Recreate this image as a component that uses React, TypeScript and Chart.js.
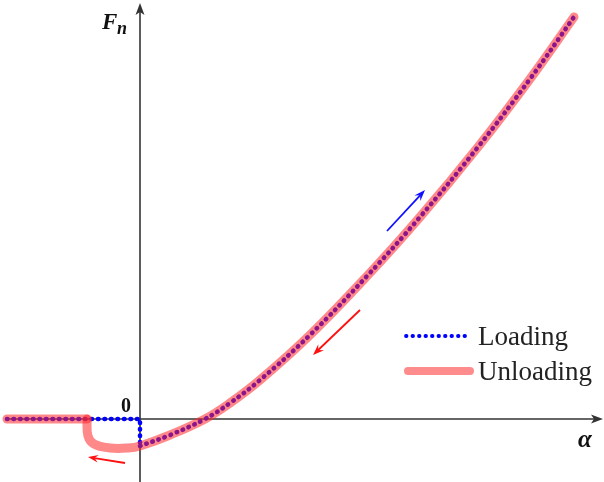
import React, { useEffect, useRef } from "react";
import { Chart, registerables } from "chart.js";

Chart.register(...registerables);

// Loading curve: flat part + drop (alpha, Fn)
const alphaLoadingFlat = [-1.33, 0, 0];
const fnLoadingFlat = [0, 0, -0.27];
// Loading curve: rising part
const alphaLoadingCurve = [0, 0.3, 0.65, 0.9, 1.2, 1.7, 2.28, 2.8, 3.38, 3.9, 4.34];
const fnLoadingCurve = [-0.27, -0.16, 0, 0.16, 0.39, 0.84, 1.44, 2.02, 2.72, 3.4, 4.02];

// Unloading curve: flat part
const alphaUnloadingFlat = [-1.33, -0.53];
const fnUnloadingFlat = [0, 0];
// Unloading curve: drop + rising part
const alphaUnloadingCurve = [-0.53, -0.52, -0.46, -0.3, -0.12, 0, 0.3, 0.65, 0.9, 1.2, 1.7, 2.28, 2.8, 3.38, 3.9, 4.34];
const fnUnloadingCurve = [0, -0.17, -0.25, -0.29, -0.29, -0.27, -0.16, 0, 0.16, 0.39, 0.84, 1.44, 2.02, 2.72, 3.4, 4.02];

const seriesNames = ["Loading", "Unloading"];

// direction arrows [x1, y1, x2, y2] in data units
const arrowLoad = [2.47, 1.88, 2.85, 2.29];
const arrowUnload1 = [2.2, 1.09, 1.73, 0.64];
const arrowUnload2 = [-0.15, -0.44, -0.52, -0.38];

const X_MIN = -1.4;
const X_MAX = 4.64;
const Y_MIN = -0.63;
const Y_MAX = 4.19;

const PINK = "rgba(255,40,40,0.55)";
const BLUE = "#0000ff";
const AXIS = "#333333";

function drawArrow(ctx: CanvasRenderingContext2D, x1: number, y1: number, x2: number, y2: number, color: string, head: number, width: number) {
  const ang = Math.atan2(y2 - y1, x2 - x1);
  ctx.save();
  ctx.strokeStyle = color;
  ctx.fillStyle = color;
  ctx.lineWidth = width;
  ctx.beginPath();
  ctx.moveTo(x1, y1);
  ctx.lineTo(x2 - Math.cos(ang) * head * 0.6, y2 - Math.sin(ang) * head * 0.6);
  ctx.stroke();
  ctx.beginPath();
  ctx.moveTo(x2, y2);
  ctx.lineTo(x2 - head * Math.cos(ang - 0.35), y2 - head * Math.sin(ang - 0.35));
  ctx.lineTo(x2 - head * 0.6 * Math.cos(ang), y2 - head * 0.6 * Math.sin(ang));
  ctx.lineTo(x2 - head * Math.cos(ang + 0.35), y2 - head * Math.sin(ang + 0.35));
  ctx.closePath();
  ctx.fill();
  ctx.restore();
}

const axesPlugin = {
  id: "axesPlugin",
  beforeDatasetsDraw(chart: any) {
    const ctx = chart.ctx as CanvasRenderingContext2D;
    const xs = chart.scales.x;
    const ys = chart.scales.y;
    const ox = xs.getPixelForValue(0);
    const oy = ys.getPixelForValue(0);
    ctx.save();
    ctx.strokeStyle = AXIS;
    ctx.lineWidth = 1.6;
    ctx.beginPath();
    ctx.moveTo(5, oy);
    ctx.lineTo(598, oy);
    ctx.stroke();
    ctx.beginPath();
    ctx.moveTo(ox, 482);
    ctx.lineTo(ox, 8);
    ctx.stroke();
    ctx.fillStyle = AXIS;
    ctx.beginPath();
    ctx.moveTo(603, oy);
    ctx.lineTo(591, oy - 4.5);
    ctx.lineTo(594, oy);
    ctx.lineTo(591, oy + 4.5);
    ctx.closePath();
    ctx.fill();
    ctx.beginPath();
    ctx.moveTo(ox, 3);
    ctx.lineTo(ox - 4.5, 15);
    ctx.lineTo(ox, 12);
    ctx.lineTo(ox + 4.5, 15);
    ctx.closePath();
    ctx.fill();

    ctx.fillStyle = "#111";
    ctx.textBaseline = "alphabetic";
    ctx.font = "italic bold 23px 'Liberation Serif', serif";
    ctx.fillText("F", 102, 29);
    ctx.font = "italic bold 18px 'Liberation Serif', serif";
    ctx.fillText("n", 117, 34);
    ctx.font = "bold 20px 'Liberation Serif', serif";
    ctx.fillText("0", 121, 412);
    ctx.font = "italic bold 25px 'Liberation Serif', serif";
    ctx.fillText("\u03b1", 578, 447);
    ctx.restore();
  },
  afterDraw(chart: any) {
    const ctx = chart.ctx as CanvasRenderingContext2D;
    const xs = chart.scales.x;
    const ys = chart.scales.y;
    const p = (a: number[]) => [xs.getPixelForValue(a[0]), ys.getPixelForValue(a[1]), xs.getPixelForValue(a[2]), ys.getPixelForValue(a[3])];
    const b = p(arrowLoad);
    drawArrow(ctx, b[0], b[1], b[2], b[3], "#1010ff", 12, 1.8);
    const r1 = p(arrowUnload1);
    drawArrow(ctx, r1[0], r1[1], r1[2], r1[3], "#ff1010", 12, 1.8);
    const r2 = p(arrowUnload2);
    drawArrow(ctx, r2[0], r2[1], r2[2], r2[3], "#ff1010", 11, 1.8);

    ctx.save();
    ctx.lineCap = "round";
    ctx.strokeStyle = BLUE;
    ctx.lineWidth = 3.8;
    ctx.setLineDash([0.5, 6]);
    ctx.beginPath();
    ctx.moveTo(406, 336);
    ctx.lineTo(470, 336);
    ctx.stroke();
    ctx.setLineDash([]);
    ctx.strokeStyle = "rgb(255,140,140)";
    ctx.lineWidth = 8;
    ctx.beginPath();
    ctx.moveTo(408, 371);
    ctx.lineTo(470, 371);
    ctx.stroke();
    ctx.fillStyle = "#222";
    ctx.font = "27px 'Liberation Serif', serif";
    ctx.textBaseline = "alphabetic";
    ctx.fillText(seriesNames[0], 478, 345);
    ctx.fillText(seriesNames[1], 478, 380);
    ctx.restore();
  },
};

const pts = (xs: number[], ys: number[]) => xs.map((x, i) => ({ x, y: ys[i] }));

export default function App() {
  const ref = useRef<HTMLCanvasElement>(null);
  useEffect(() => {
    if (!ref.current) return;
    const loadStyle = {
      borderColor: BLUE,
      borderWidth: 4.6,
      borderDash: [0.5, 6],
      borderCapStyle: "round",
      borderJoinStyle: "round",
      pointRadius: 0,
      fill: false,
      order: 1,
    };
    const unloadStyle = {
      borderColor: PINK,
      borderWidth: 9,
      borderCapStyle: "round",
      borderJoinStyle: "round",
      pointRadius: 0,
      fill: false,
      order: 0,
    };
    const chart = new Chart(ref.current, {
      type: "line",
      data: {
        datasets: [
          { label: seriesNames[0], data: pts(alphaLoadingFlat, fnLoadingFlat), tension: 0, ...loadStyle },
          { label: seriesNames[0], data: pts(alphaLoadingCurve, fnLoadingCurve), tension: 0.4, ...loadStyle },
          { label: seriesNames[1], data: pts(alphaUnloadingFlat, fnUnloadingFlat), tension: 0, ...unloadStyle },
          { label: seriesNames[1], data: pts(alphaUnloadingCurve, fnUnloadingCurve), tension: 0.4, ...unloadStyle },
        ],
      },
      options: {
        responsive: false,
        animation: false,
        layout: { padding: 0 },
        plugins: { legend: { display: false }, tooltip: { enabled: false } },
        scales: {
          x: { type: "linear", min: X_MIN, max: X_MAX, display: false },
          y: { type: "linear", min: Y_MIN, max: Y_MAX, display: false },
        },
      },
      plugins: [axesPlugin],
    } as any);
    return () => chart.destroy();
  }, []);
  return (
    <div style={{ position: "fixed", left: 0, top: 0, width: 604, height: 482, background: "#fff" }}>
      <canvas ref={ref} width={604} height={482} style={{ display: "block" }} />
    </div>
  );
}
